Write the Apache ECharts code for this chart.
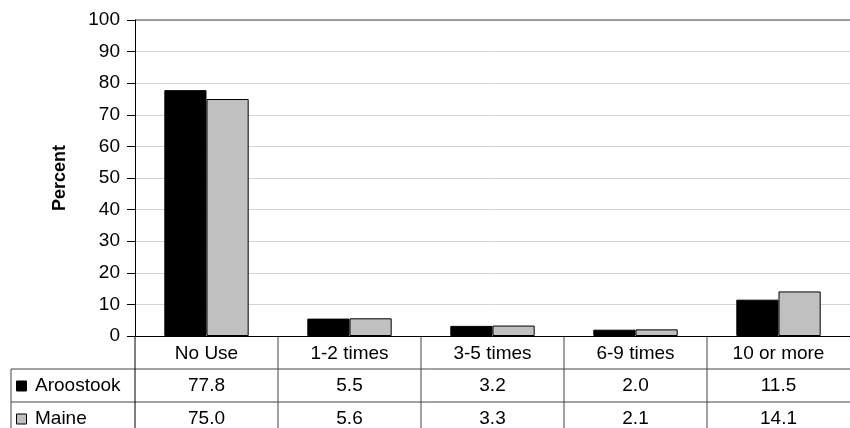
<!DOCTYPE html>
<html>
<head>
<meta charset="utf-8">
<script src="https://cdn.jsdelivr.net/npm/echarts@6/dist/echarts.min.js"></script>
<style>
html,body{margin:0;padding:0;background:#fff;}
#usePie{width:850px;height:428px;}
</style>
</head>
<body>
<div id="usePie"></div>
<script>
var categories = ['No Use', '1-2 times', '3-5 times', '6-9 times', '10 or more'];
var seriesNames = ['Aroostook', 'Maine'];
var aroostookValues = [77.8, 5.5, 3.2, 2.0, 11.5];
var maineValues = [75.0, 5.6, 3.3, 2.1, 14.1];
var yTicks = [0, 10, 20, 30, 40, 50, 60, 70, 80, 90, 100];

var useChart = {
	options: {
		myChart: null,
		baroption: null
	},
	initPage: function()
	{
		var that = this;
		var myChart = echarts.init(document.getElementById('usePie'));
		that.options.myChart = myChart;
		var font = 'Liberation Sans, Arial, sans-serif';
		that.options.baroption = {
			animation: false,
			grid: {
				left: 135,
				top: 20,
				width: 718,
				bottom: 92
			},
			xAxis: {
				type: 'category',
				data: categories,
				axisLine: { lineStyle: { color: '#000', width: 1 } },
				axisTick: { show: false },
				axisLabel: { show: false }
			},
			yAxis: {
				type: 'value',
				min: yTicks[0],
				max: yTicks[yTicks.length - 1],
				interval: 10,
				name: 'Percent',
				nameLocation: 'middle',
				nameGap: 66,
				nameTextStyle: { fontFamily: font, fontWeight: 'bold', fontSize: 18, color: '#000' },
				axisLine: { show: true, lineStyle: { color: '#000', width: 1 } },
				axisTick: { show: true, length: 8, lineStyle: { color: '#000' } },
				axisLabel: { fontFamily: font, fontSize: 19, color: '#000', margin: 15 },
				splitLine: { lineStyle: { color: '#d4d4d4', width: 1 } }
			},
			series: [{
				name: seriesNames[0],
				type: 'bar',
				data: aroostookValues,
				barGap: '0%',
				barCategoryGap: '41%',
				itemStyle: { color: '#000', borderColor: '#000', borderWidth: 1 }
			}, {
				name: seriesNames[1],
				type: 'bar',
				data: maineValues,
				itemStyle: { color: '#c0c0c0', borderColor: '#000', borderWidth: 1 }
			}]
		};
		myChart.setOption(that.options.baroption);
		that.drawTable();
	},
	drawTable: function()
	{
		var myChart = this.options.myChart;
		var font = 'Liberation Sans, Arial, sans-serif';
		var lineColor = '#444';
		var y0 = myChart.convertToPixel({ yAxisIndex: 0 }, 0);
		var yTop = myChart.convertToPixel({ yAxisIndex: 0 }, yTicks[yTicks.length - 1]);
		var rowY = [y0, y0 + 33, y0 + 66, y0 + 99];
		var tableLeft = 11;
		var centers = categories.map(function(c, i) {
			return myChart.convertToPixel({ xAxisIndex: 0 }, i);
		});
		var bw = centers[1] - centers[0];
		var left = centers[0] - bw / 2;
		var right = centers[centers.length - 1] + bw / 2;
		var els = [];
		// plot area top border
		els.push({ type: 'line', shape: { x1: left, y1: yTop, x2: right, y2: yTop },
			style: { stroke: '#808080', lineWidth: 1.5 } });
		// rules under the category row, then the column dividers (last one falls off the page)
		for (var r = 1; r < rowY.length; r++) {
			els.push({ type: 'line', shape: { x1: tableLeft, y1: rowY[r], x2: right, y2: rowY[r] },
				style: { stroke: lineColor, lineWidth: 1 } });
		}
		els.push({ type: 'line', shape: { x1: tableLeft, y1: rowY[1], x2: tableLeft, y2: rowY[3] },
			style: { stroke: lineColor, lineWidth: 1 } });
		for (var k = 0; k < categories.length; k++) {
			var x = left + k * bw;
			els.push({ type: 'line', shape: { x1: x, y1: rowY[0], x2: x, y2: rowY[3] },
				style: { stroke: k === 0 ? '#000' : lineColor, lineWidth: 1 } });
		}
		var rows = [aroostookValues, maineValues];
		categories.forEach(function(c, i) {
			els.push({ type: 'text', x: centers[i], y: (rowY[0] + rowY[1]) / 2 + 1,
				style: { text: c, font: '19px ' + font, fill: '#000', align: 'center', verticalAlign: 'middle' } });
			rows.forEach(function(vals, j) {
				els.push({ type: 'text', x: centers[i], y: (rowY[j + 1] + rowY[j + 2]) / 2,
					style: { text: vals[i].toFixed(1), font: '19px ' + font, fill: '#000', align: 'center', verticalAlign: 'middle' } });
			});
		});
		var keyColors = ['#000', '#c0c0c0'];
		seriesNames.forEach(function(n, j) {
			var cy = (rowY[j + 1] + rowY[j + 2]) / 2;
			els.push({ type: 'rect', shape: { x: 16.5, y: cy - 4.5, width: 10, height: 10 },
				style: { fill: keyColors[j], stroke: '#000', lineWidth: 1 } });
			els.push({ type: 'text', x: 35, y: cy,
				style: { text: n, font: '19px ' + font, fill: '#000', align: 'left', verticalAlign: 'middle' } });
		});
		myChart.setOption({ graphic: { elements: els } });
	}
};

useChart.initPage();
</script>
</body>
</html>
